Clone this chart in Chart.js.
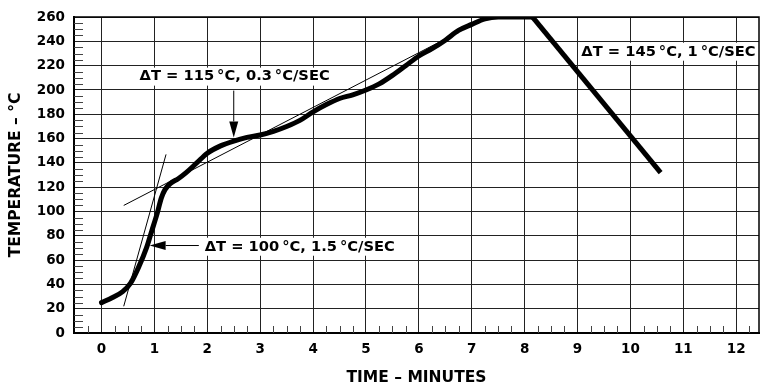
<!DOCTYPE html>
<html>
<head>
<meta charset="utf-8">
<title>Reflow temperature profile</title>
<script src="https://cdn.jsdelivr.net/npm/chart.js@4.4.1/dist/chart.umd.min.js"></script>
<style>
  html, body { margin: 0; padding: 0; background: #fff; }
  #profileChart { display: block; }
</style>
</head>
<body>
<canvas id="profileChart" width="760" height="388"></canvas>
<script>
// axis ticks
const timeTicks = [0, 1, 2, 3, 4, 5, 6, 7, 8, 9, 10, 11, 12];
const tempTicks = [0, 20, 40, 60, 80, 100, 120, 140, 160, 180, 200, 220, 240, 260];

// heating part of the profile (minutes, °C)
const riseTime = [0, 0.2, 0.4, 0.55, 0.7, 0.85, 0.95, 1.05, 1.13, 1.2, 1.3, 1.45, 1.6, 1.8, 2.0,
  2.25, 2.5, 2.75, 3.0, 3.25, 3.5, 3.75, 4.0, 4.25, 4.5, 4.75, 5.0, 5.25, 5.5, 5.75,
  6.0, 6.25, 6.5, 6.75, 7.0, 7.25, 7.5, 8.15];
const riseTemp = [25, 29, 34, 41, 54, 70, 84, 98, 111, 118, 123, 127, 132, 140, 148,
  154, 158, 161, 163, 166, 170, 175, 182, 188, 193, 196, 200, 205, 212, 220,
  228, 234, 241, 249, 254, 258.5, 260, 260];

// cool-down ramp
const coolTime = [8.15, 10.57];
const coolTemp = [260, 132];

// slope construction lines
const steepTime = [0.42, 1.22];
const steepTemp = [22, 147];
const soakTime = [0.42, 6.5];
const soakTemp = [105, 242];

const noteTexts = [
  "ΔT = 115\u2009°C, 0.3\u2009°C/SEC",
  "ΔT = 100\u2009°C, 1.5\u2009°C/SEC",
  "ΔT = 145\u2009°C, 1\u2009°C/SEC"
];

const toPoints = (xs, ys) => xs.map((x, i) => ({ x, y: ys[i] }));

const boldFont = (size) => ({ family: '"DejaVu Sans", sans-serif', weight: "bold", size });

// label anchors in data units (left edge, vertical middle)
const noteSpots = [
  { time: 0.72, temp: 211 },
  { time: 1.95, temp: 71 },
  { time: 9.07, temp: 231.5 }
];

const arrowSpots = [
  { fromTime: 2.5, fromTemp: 199.5, toTime: 2.5, toTemp: 161 },
  { fromTime: 1.84, fromTemp: 72, toTime: 0.91, toTemp: 72 }
];

function drawArrow(ctx, x1, y1, x2, y2) {
  const ang = Math.atan2(y2 - y1, x2 - x1);
  const len = 16;
  const half = 4.5;
  const bx = x2 - Math.cos(ang) * len;
  const by = y2 - Math.sin(ang) * len;

  ctx.beginPath();
  ctx.moveTo(x1, y1);
  ctx.lineTo(bx, by);
  ctx.stroke();

  ctx.beginPath();
  ctx.moveTo(x2, y2);
  ctx.lineTo(bx + Math.sin(ang) * half, by - Math.cos(ang) * half);
  ctx.lineTo(bx - Math.sin(ang) * half, by + Math.cos(ang) * half);
  ctx.closePath();
  ctx.fill();
}

const profileDecor = {
  id: "profileDecor",
  beforeDatasetsDraw(chart) {
    const { ctx, chartArea: a, scales: { x, y } } = chart;
    ctx.save();

    // minor ticks: quarter minutes, 5 degree steps
    ctx.strokeStyle = "#444";
    ctx.lineWidth = 1;
    ctx.beginPath();
    for (let t = -0.25; t < x.max; t += 0.25) {
      if (Number.isInteger(t)) continue;
      const px = Math.round(x.getPixelForValue(t)) + 0.5;
      ctx.moveTo(px, a.bottom);
      ctx.lineTo(px, a.bottom - 7);
    }
    for (let v = 5; v < y.max; v += 5) {
      if (v % 20 === 0) continue;
      const py = Math.round(y.getPixelForValue(v)) + 0.5;
      ctx.moveTo(a.left, py);
      ctx.lineTo(a.left + 9, py);
    }
    ctx.stroke();

    // notes on a white ground
    ctx.font = 'bold 14.7px "DejaVu Sans", sans-serif';
    ctx.textAlign = "left";
    ctx.textBaseline = "middle";
    noteTexts.forEach((text, i) => {
      const px = x.getPixelForValue(noteSpots[i].time);
      const py = y.getPixelForValue(noteSpots[i].temp);
      const w = ctx.measureText(text).width;
      const right = Math.min(px + w + 3, a.right - 1);
      ctx.fillStyle = "#fff";
      ctx.fillRect(px - 3, py - 9, right - px + 3, 18);
      ctx.fillStyle = "#000";
      ctx.fillText(text, px, py);
    });

    // top / right frame
    ctx.strokeStyle = "#000";
    ctx.lineWidth = 1.5;
    ctx.beginPath();
    ctx.moveTo(a.left, a.top);
    ctx.lineTo(a.right, a.top);
    ctx.lineTo(a.right, a.bottom);
    ctx.stroke();

    ctx.strokeStyle = "#000";
    ctx.fillStyle = "#000";
    ctx.lineWidth = 1;
    arrowSpots.forEach((s) => {
      drawArrow(
        ctx,
        x.getPixelForValue(s.fromTime), y.getPixelForValue(s.fromTemp),
        x.getPixelForValue(s.toTime), y.getPixelForValue(s.toTemp)
      );
    });

    ctx.restore();
  }
};

new Chart(document.getElementById("profileChart"), {
  type: "scatter",
  data: {
    datasets: [
      {
        data: toPoints(steepTime, steepTemp),
        showLine: true,
        borderColor: "#000",
        borderWidth: 1,
        pointRadius: 0
      },
      {
        data: toPoints(soakTime, soakTemp),
        showLine: true,
        borderColor: "#000",
        borderWidth: 1,
        pointRadius: 0
      },
      {
        data: toPoints(riseTime, riseTemp),
        showLine: true,
        borderColor: "#000",
        borderWidth: 5,
        borderCapStyle: "round",
        borderJoinStyle: "round",
        cubicInterpolationMode: "monotone",
        pointRadius: 0
      },
      {
        data: toPoints(coolTime, coolTemp),
        showLine: true,
        borderColor: "#000",
        borderWidth: 5,
        borderCapStyle: "butt",
        pointRadius: 0
      }
    ]
  },
  options: {
    responsive: false,
    animation: false,
    events: [],
    layout: { padding: { top: 14, right: 1, left: 0, bottom: 0 } },
    plugins: {
      legend: { display: false },
      tooltip: { enabled: false }
    },
    scales: {
      x: {
        type: "linear",
        min: -0.52,
        max: 12.43,
        afterFit: (s) => { s.height = 55; },
        afterBuildTicks: (s) => { s.ticks = timeTicks.map((v) => ({ value: v })); },
        ticks: { color: "#000", font: boldFont(13.5), padding: 8 },
        grid: { color: "#222", lineWidth: 1, drawTicks: false },
        border: { color: "#000", width: 2 },
        title: {
          display: true,
          text: "TIME – MINUTES",
          color: "#000",
          font: boldFont(15.5),
          padding: { top: 0, bottom: 1 }
        }
      },
      y: {
        type: "linear",
        min: 0,
        max: 260,
        afterFit: (s) => { s.width = 74; },
        afterBuildTicks: (s) => { s.ticks = tempTicks.map((v) => ({ value: v })); },
        ticks: { color: "#000", font: boldFont(13.5), padding: 9 },
        grid: { color: "#222", lineWidth: 1, drawTicks: false },
        border: { color: "#000", width: 2 },
        title: {
          display: true,
          text: "TEMPERATURE – °C",
          color: "#000",
          font: boldFont(15.5),
          padding: { top: 7, bottom: 0 }
        }
      }
    }
  },
  plugins: [profileDecor]
});
</script>
</body>
</html>
